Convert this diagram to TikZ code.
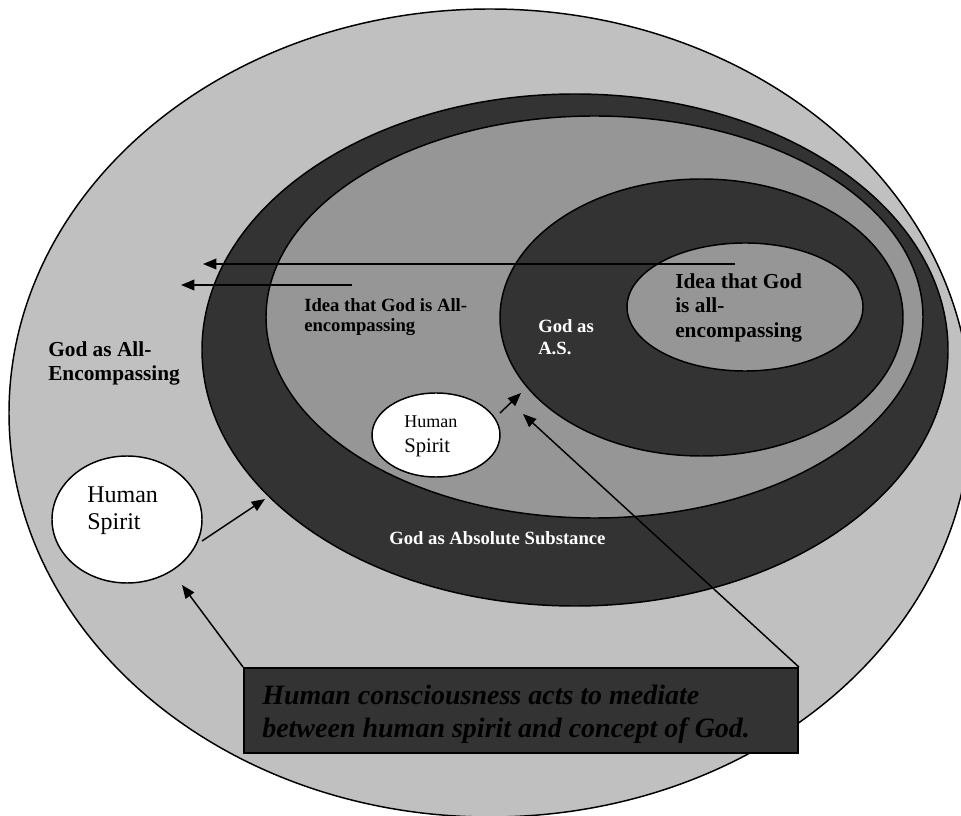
\documentclass[tikz,border=0pt]{standalone}
\usepackage{fontspec}
\setmainfont{Liberation Serif}
\usetikzlibrary{shapes.geometric,arrows.meta}
\definecolor{lightg}{HTML}{C0C0C0}
\definecolor{midg}{HTML}{969696}
\definecolor{darkg}{HTML}{333333}
\tikzset{
  ring/.style={ellipse, draw=black, line width=1.1pt, inner sep=0pt},
  lbl/.style={anchor=base west, inner sep=0pt, text=black},
  wlbl/.style={anchor=base west, inner sep=0pt, text=white},
  arr/.style={-{Triangle[length=10pt,width=8pt]}, line width=1.1pt, black},
}
\newcommand{\fs}[2]{\fontsize{#1}{#2}\selectfont}
\begin{document}
\begin{tikzpicture}[x=0.75pt,y=-0.75pt]
\useasboundingbox (0,0) rectangle (961,816);
\clip (0,0) rectangle (961,816);
% ellipses
\node[ring, fill=lightg, minimum width=721.5pt, minimum height=606pt] (outer) at (490,413) {};
\node[ring, fill=darkg, minimum width=559.5pt, minimum height=384pt] (abs) at (575,350) {};
\node[ring, fill=midg, minimum width=492.75pt, minimum height=301.5pt] (idea) at (594.5,317) {};
\node[ring, fill=darkg, minimum width=302.25pt, minimum height=207.75pt] (as) at (701.5,317.5) {};
\node[ring, fill=midg, minimum width=177pt, minimum height=96pt] (inner) at (745,307) {};
\node[ring, fill=white, minimum width=96pt, minimum height=63pt] (hs2) at (436,435) {};
\node[ring, fill=white, minimum width=112.5pt, minimum height=95.25pt] (hs1) at (127,519.5) {};
% box
\node[draw=black, line width=1.4pt, fill=darkg, minimum width=415.5pt, minimum height=63.75pt, inner sep=0pt] (box) at (521,710.5) {};
% labels
\node[lbl, font=\bfseries\fs{16pt}{18pt}] (gae1) at (48,357) {God as All-};
\node[lbl, font=\bfseries\fs{16pt}{18pt}] (gae2) at (48,381) {Encompassing};
\node[lbl, font=\bfseries\fs{14pt}{16pt}] (ia1) at (304,312) {Idea that God is All-};
\node[lbl, font=\bfseries\fs{14pt}{16pt}] (ia2) at (304,332) {encompassing};
\node[wlbl, font=\bfseries\fs{14pt}{16pt}] (gas1) at (538,333) {God as};
\node[wlbl, font=\bfseries\fs{14pt}{16pt}] (gas2) at (538,355) {A.S.};
\node[lbl, font=\bfseries\fs{16pt}{18pt}] (ib1) at (675,289) {Idea that God};
\node[lbl, font=\bfseries\fs{16pt}{18pt}] (ib2) at (675,313) {is all-};
\node[lbl, font=\bfseries\fs{16pt}{18pt}] (ib3) at (675,338) {encompassing};
\node[lbl, font=\fs{13.5pt}{16pt}] (hsb1) at (404,428) {Human};
\node[lbl, font=\fs{15.5pt}{18pt}] (hsb2) at (404,453) {Spirit};
\node[lbl, font=\fs{18pt}{20pt}] (hsa1) at (87,503) {Human};
\node[lbl, font=\fs{18pt}{20pt}] (hsa2) at (87,530) {Spirit};
\node[wlbl, font=\bfseries\fs{14pt}{16pt}] (gabs) at (389,545) {God as Absolute Substance};
\node[lbl, font=\bfseries\itshape\fs{21pt}{24pt}] (bx1) at (262,704) {Human consciousness acts to mediate};
\node[lbl, font=\bfseries\itshape\fs{21pt}{24pt}] (bx2) at (262,737) {between human spirit and concept of God.};
% arrow end points
\coordinate (t1s) at (735,264);
\coordinate (t1e) at (203,264);
\coordinate (t2s) at (352,285);
\coordinate (t2e) at (181,285);
\coordinate (h1s) at (202,541);
\coordinate (h1e) at (265,499);
\coordinate (h2s) at (500,413);
\coordinate (h2e) at (521,393);
\coordinate (b1e) at (182,585);
\coordinate (b2e) at (523,414);
% arrows
\draw[arr] (t1s) -- (t1e);
\draw[arr] (t2s) -- (t2e);
\draw[arr] (h1s) -- (h1e);
\draw[arr] (h2s) -- (h2e);
\draw[arr] (box.north west) -- (b1e);
\draw[arr] (box.north east) -- (b2e);
\end{tikzpicture}
\end{document}
